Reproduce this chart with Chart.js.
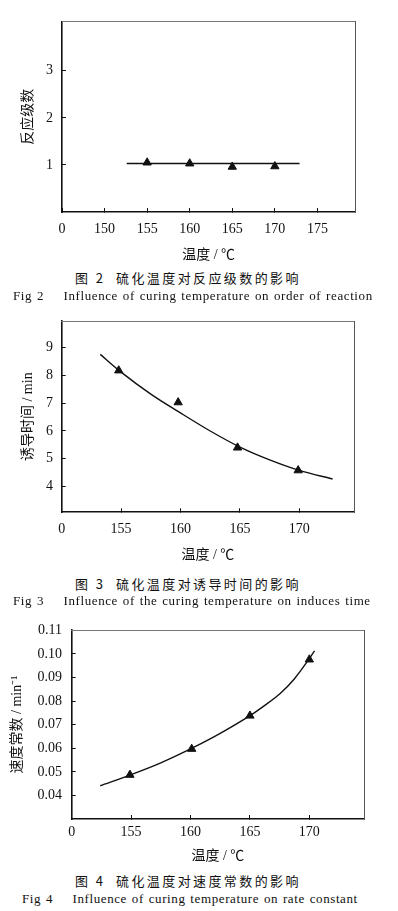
<!DOCTYPE html>
<html>
<head>
<meta charset="utf-8">
<script src="https://cdn.jsdelivr.net/npm/chart.js@4"></script>
<style>
  body { margin: 0; background: #fff; }
  #page { position: relative; width: 398px; height: 911px; overflow: hidden; background: #fff; }
  canvas { position: absolute; left: 0; }
  .cap { position: absolute; white-space: nowrap; color: #111; line-height: 16px; z-index: 2; }
  .cn { font: 13px "Noto Sans CJK SC"; letter-spacing: 2.4px; left: 0; width: 376px; text-align: center; }
  .en { font: 13px "Liberation Serif"; letter-spacing: 0.6px; word-spacing: 1px; }
</style>
</head>
<body>
<div id="page">
  <canvas id="chart2" width="398" height="268" style="top:0"></canvas>
  <div class="cap cn" style="top:268px">图 2&nbsp; 硫化温度对反应级数的影响</div>
  <div class="cap en" style="top:288px;left:13px">Fig 2&nbsp;&nbsp;&nbsp; Influence of curing temperature on order of reaction</div>

  <canvas id="chart3" width="398" height="270" style="top:300px"></canvas>
  <div class="cap cn" style="top:574px">图 3&nbsp; 硫化温度对诱导时间的影响</div>
  <div class="cap en" style="top:593px;left:13px">Fig 3&nbsp;&nbsp;&nbsp; Influence of the curing temperature on induces time</div>

  <canvas id="chart4" width="398" height="260" style="top:608px"></canvas>
  <div class="cap cn" style="top:871px">图 4&nbsp; 硫化温度对速度常数的影响</div>
  <div class="cap en" style="top:891px;left:22px">Fig 4&nbsp;&nbsp;&nbsp; Influence of curing temperature on rate constant</div>
</div>

<script>
// данные для рис. 2 (反应级数)
const temps2 = [155, 160, 165, 170];
const order2 = [1.05, 1.03, 0.96, 0.97];
const fitX2 = [152.6, 172.9];
const fitY2 = [1.03, 1.03];
const xTicks2 = [145, 150, 155, 160, 165, 170, 175];
const xLabels2 = ['0', '150', '155', '160', '165', '170', '175'];
const yTicks2 = [1, 2, 3];

// данные для рис. 3 (诱导时间)
const temps3 = [154.8, 159.8, 164.8, 169.9];
const time3 = [8.18, 7.03, 5.40, 4.58];
const fitX3 = [153.25, 155, 157.5, 160, 162.5, 165, 167.5, 170, 172.8];
const fitY3 = [8.76, 8.12, 7.33, 6.65, 6.0, 5.42, 4.96, 4.58, 4.27];
const xTicks3 = [150, 155, 160, 165, 170];
const xLabels3 = ['0', '155', '160', '165', '170'];
const yTicks3 = [4, 5, 6, 7, 8, 9];

// данные для рис. 4 (速度常数)
const temps4 = [154.9, 160.1, 165.0, 170.0];
const rate4 = [0.0487, 0.0597, 0.0738, 0.0976];
const fitX4 = [152.4, 155, 157.5, 160, 162.5, 165, 166.25, 167.5, 168.75, 170, 170.44];
const fitY4 = [0.0441, 0.0488, 0.0538, 0.0597, 0.0663, 0.0738, 0.0782, 0.0830, 0.0895, 0.0980, 0.1013];
const xTicks4 = [150, 155, 160, 165, 170];
const xLabels4 = ['0', '155', '160', '165', '170'];
const yTicks4 = [0.04, 0.05, 0.06, 0.07, 0.08, 0.09, 0.10, 0.11];

const ink = '#111';
const tickFont = { family: '"Liberation Serif", "DejaVu Serif", serif', size: 14 };
const titleFont = { family: '"Liberation Serif", "Noto Sans CJK SC", serif', size: 14 };

const pairs = (xs, ys) => xs.map((x, i) => ({ x: x, y: ys[i] }));

// фиксированные размеры осей, чтобы рамка графика совпала
const fixSize = (size) => (scale) => {
  if (scale.isHorizontal()) scale.height = size; else scale.width = size;
};

function makeChart(id, p) {
  const ctx = document.getElementById(id).getContext('2d');
  return new Chart(ctx, {
    type: 'scatter',
    data: {
      datasets: [
        {
          data: pairs(p.px, p.py),
          pointStyle: 'triangle',
          pointRadius: 4.8,
          backgroundColor: ink,
          borderColor: ink,
          borderWidth: 1,
        },
        {
          data: pairs(p.fx, p.fy),
          showLine: true,
          pointRadius: 0,
          borderColor: ink,
          borderWidth: 1.4,
          cubicInterpolationMode: 'monotone',
        },
      ],
    },
    options: {
      responsive: false,
      animation: false,
      layout: { padding: { top: p.padTop, right: p.padRight, left: 0, bottom: 0 } },
      plugins: { legend: { display: false }, tooltip: { enabled: false } },
      scales: {
        x: {
          type: 'linear',
          position: 'bottom',
          min: p.xMin,
          max: p.xMax,
          afterFit: fixSize(p.xH),
          afterBuildTicks: (s) => { s.ticks = p.xTicks.map((v) => ({ value: v })); },
          ticks: {
            autoSkip: false,
            maxRotation: 0,
            padding: p.xPad,
            color: ink,
            font: tickFont,
            callback: (v) => p.xLabels[p.xTicks.indexOf(v)],
          },
          grid: { drawOnChartArea: false, tickLength: -4, color: ink, lineWidth: 1 },
          border: { color: ink, width: 1.6 },
          title: {
            display: true,
            text: '温度 / ℃',
            color: ink,
            font: titleFont,
            padding: { top: 0, bottom: p.xTitlePad },
          },
        },
        y: {
          type: 'linear',
          position: 'left',
          min: p.yMin,
          max: p.yMax,
          afterFit: fixSize(p.yW),
          afterBuildTicks: (s) => { s.ticks = p.yTicks.map((v) => ({ value: v })); },
          ticks: {
            autoSkip: false,
            padding: p.yPad,
            color: ink,
            font: tickFont,
            callback: (v) => v.toFixed(p.yDec),
          },
          grid: { drawOnChartArea: false, tickLength: -4, color: ink, lineWidth: 1 },
          border: { color: ink, width: 1.6 },
          title: {
            display: true,
            text: p.yTitle,
            color: ink,
            font: titleFont,
            padding: { top: p.yTitlePad, bottom: 0 },
          },
        },
        // верхняя и правая рамка
        x2: {
          type: 'linear', position: 'top', display: true, min: 0, max: 1,
          afterFit: fixSize(0),
          ticks: { display: false },
          grid: { display: false },
          border: { color: '#777', width: 1, dash: [1, 1] },
        },
        y2: {
          type: 'linear', position: 'right', display: true, min: 0, max: 1,
          afterFit: fixSize(0),
          ticks: { display: false },
          grid: { display: false },
          border: { color: '#555', width: 1 },
        },
      },
    },
  });
}

// график 1
makeChart('chart2', {
  px: temps2, py: order2, fx: fitX2, fy: fitY2,
  xMin: 145, xMax: 179.45, xTicks: xTicks2, xLabels: xLabels2,
  yMin: 0, yMax: 4.05, yTicks: yTicks2, yDec: 0,
  yTitle: '反应级数',
  padTop: 11, padRight: 42.7, xH: 56, yW: 62,
  xPad: 12.6, yPad: 13, xTitlePad: 4.6, yTitlePad: 19.6,
});

// график 2
makeChart('chart3', {
  px: temps3, py: time3, fx: fitX3, fy: fitY3,
  xMin: 150, xMax: 174.6, xTicks: xTicks3, xLabels: xLabels3,
  yMin: 3.07, yMax: 9.96, yTicks: yTicks3, yDec: 0,
  yTitle: '诱导时间 / min',
  padTop: 11.7, padRight: 44, xH: 57.7, yW: 61.7,
  xPad: 12.6, yPad: 12.7, xTitlePad: 6.6, yTitlePad: 19.6,
});

// график 3
makeChart('chart4', {
  px: temps4, py: rate4, fx: fitX4, fy: fitY4,
  xMin: 150, xMax: 174.6, xTicks: xTicks4, xLabels: xLabels4,
  yMin: 0.03, yMax: 0.1101, yTicks: yTicks4, yDec: 2,
  yTitle: '速度常数 / min⁻¹',
  padTop: 10.3, padRight: 34, xH: 49, yW: 71.7,
  xPad: 9, yPad: 13.7, xTitlePad: 3.6, yTitlePad: 8.6,
});
</script>
</body>
</html>
